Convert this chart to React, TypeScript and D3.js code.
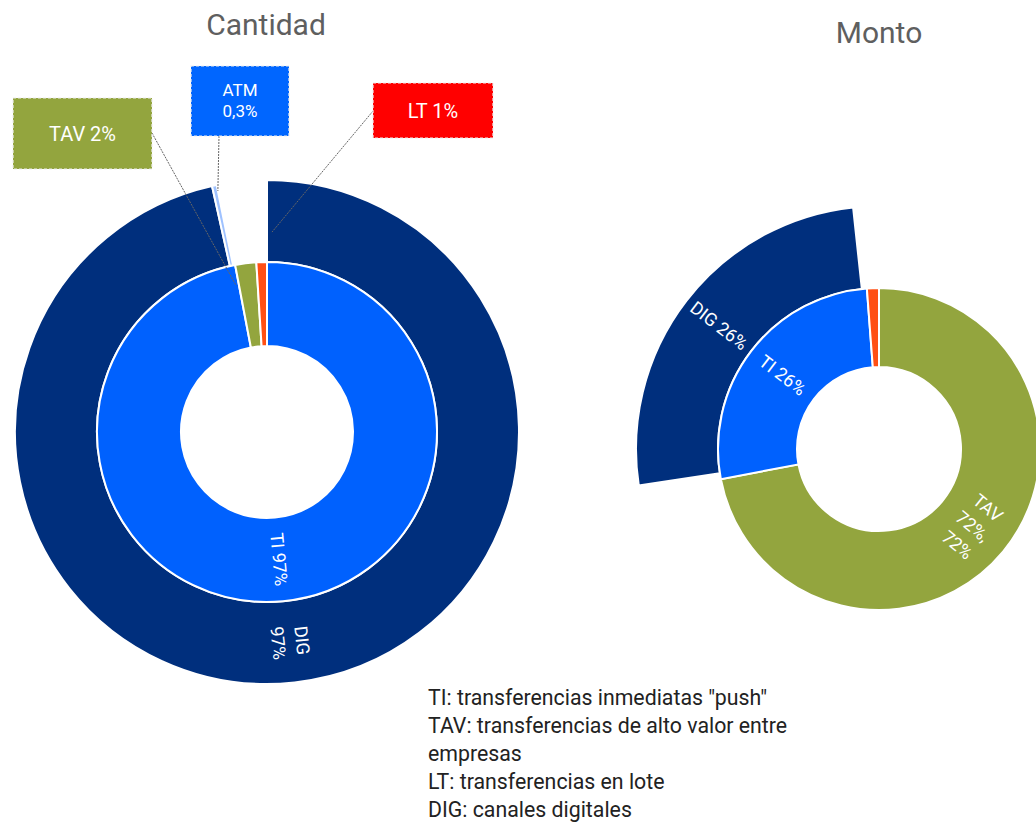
import React from "react";
import * as d3 from "d3";

// ---- data ----
const cantidadInnerCats = ["TI", "TAV", "LT"];
const cantidadInnerValues = [97, 2, 1];
const cantidadOuterCats = ["DIG", "ATM", ""];
const cantidadOuterValues = [96.5, 0.3, 3.2];

const montoInnerCats = ["TAV", "TI", "LT"];
const montoInnerValues = [72, 26.8, 1.2];
const montoOuterCats = ["", "DIG", ""];
const montoOuterValues = [72.6, 25.7, 1.7];

const legendLines = [
  'TI: transferencias inmediatas "push"',
  "TAV: transferencias de alto valor entre",
  "empresas",
  "LT: transferencias en lote",
  "DIG: canales digitales",
];

const colors: Record<string, string> = {
  TI: "#0061fe",
  ATM: "#9fc2ff",
  TAV: "#93a53e",
  LT: "#ff4f14",
  DIG: "#002f7d",
};

type Slice = d3.PieArcDatum<number> & { cat: string };

function slices(cats: string[], values: number[]): Slice[] {
  const pie = d3.pie<number>().sort(null).value((d) => d);
  return pie(values).map((p, i) => ({ ...p, cat: cats[i] }));
}

function polar(cx: number, cy: number, a: number, r: number): [number, number] {
  return [cx + r * Math.sin(a), cy - r * Math.cos(a)];
}

function Ring({ data, r0, r1 }: { data: Slice[]; r0: number; r1: number }) {
  const arc = d3.arc<Slice>().innerRadius(r0).outerRadius(r1);
  return (
    <g>
      {data
        .filter((d) => d.cat !== "")
        .map((d, i) => (
          <path key={i} d={arc(d) || ""} fill={colors[d.cat]} stroke="#fff" strokeWidth={2} />
        ))}
    </g>
  );
}

function RingLabel({ d, r0, r1, lines }: { d: Slice; r0: number; r1: number; lines: string[] }) {
  const arc = d3.arc<Slice>().innerRadius(r0).outerRadius(r1);
  const [x, y] = arc.centroid(d);
  const mid = (((d.startAngle + d.endAngle) / 2) * 180) / Math.PI;
  const rot = mid < 180 ? mid - 90 : mid + 90;
  const lh = 24;
  return (
    <text
      transform={`translate(${x},${y}) rotate(${rot})`}
      textAnchor="middle"
      fill="#fff"
      fontSize={18}
      fontFamily="Roboto, sans-serif"
    >
      {lines.map((l, i) => (
        <tspan key={i} x={0} y={(i - (lines.length - 1) / 2) * lh} dy="0.35em">
          {l}
        </tspan>
      ))}
    </text>
  );
}

function Callout({ x, y, w, h, fill, lines, size }: any) {
  const lh = size + 4;
  return (
    <g>
      <rect x={x} y={y} width={w} height={h} fill={fill} stroke="#eeeeee" strokeWidth={1.2} strokeDasharray="3,2" />
      <text textAnchor="middle" fill="#fff" fontSize={size} fontFamily="Roboto, sans-serif">
        {lines.map((l: string, i: number) => (
          <tspan key={i} x={x + w / 2} y={y + h / 2 + (i - (lines.length - 1) / 2) * lh} dy="0.35em">
            {l}
          </tspan>
        ))}
      </text>
    </g>
  );
}

export default function App() {
  // Cantidad
  const c = { cx: 267, cy: 432, r0: 86, r1: 170, r2: 252 };
  const cIn = slices(cantidadInnerCats, cantidadInnerValues);
  const cOut = slices(cantidadOuterCats, cantidadOuterValues);
  // Monto
  const m = { cx: 879, cy: 449, r0: 82, r1: 161, r2: 243 };
  const mIn = slices(montoInnerCats, montoInnerValues);
  const mOut = slices(montoOuterCats, montoOuterValues);

  const tav = cIn.find((d) => d.cat === "TAV")!;
  const lt = cIn.find((d) => d.cat === "LT")!;
  const atm = cOut.find((d) => d.cat === "ATM")!;
  const tavEnd = polar(c.cx, c.cy, tav.startAngle - 0.02, 150);
  const atmEnd = polar(c.cx, c.cy, atm.endAngle, 246);
  const ltEnd = polar(c.cx, c.cy, lt.endAngle + 0.025, 200);

  const leader = { stroke: "#666", strokeWidth: 1, strokeDasharray: "2,1", fill: "none" };

  return (
    <svg
      width={1036}
      height={823}
      style={{ position: "absolute", left: 0, top: 0, background: "#fff" }}
    >
      <text x={266} y={35} textAnchor="middle" fontSize={30} fill="#5f5f5f" fontFamily="Roboto, sans-serif">
        Cantidad
      </text>
      <text x={879} y={43} textAnchor="middle" fontSize={30} fill="#5f5f5f" fontFamily="Roboto, sans-serif">
        Monto
      </text>

      <g transform={`translate(${c.cx},${c.cy})`}>
        <Ring data={cOut} r0={c.r1} r1={c.r2} />
        <Ring data={cIn} r0={c.r0} r1={c.r1} />
        <RingLabel d={cIn[0]} r0={c.r0} r1={c.r1} lines={["TI 97%"]} />
        <RingLabel d={cOut[0]} r0={c.r1} r1={c.r2} lines={["DIG", "97%"]} />
      </g>

      <g transform={`translate(${m.cx},${m.cy})`}>
        <Ring data={mOut} r0={m.r1} r1={m.r2} />
        <Ring data={mIn} r0={m.r0} r1={m.r1} />
        <RingLabel d={mIn[0]} r0={m.r0} r1={m.r1} lines={["TAV", "72%,", "72%"]} />
        <RingLabel d={mIn[1]} r0={m.r0} r1={m.r1} lines={["TI 26%"]} />
        <RingLabel d={mOut[1]} r0={m.r1} r1={m.r2} lines={["DIG 26%"]} />
      </g>

      <line x1={152} y1={133} x2={tavEnd[0]} y2={tavEnd[1]} {...leader} />
      <line x1={219} y1={136} x2={atmEnd[0]} y2={atmEnd[1]} {...leader} />
      <line x1={373} y1={111} x2={ltEnd[0]} y2={ltEnd[1]} {...leader} />

      <Callout x={13} y={98} w={139} h={71} fill="#93a53e" lines={["TAV 2%"]} size={20} />
      <Callout x={191} y={66} w={98} h={70} fill="#0066ff" lines={["ATM", "0,3%"]} size={17} />
      <Callout x={373} y={83} w={120} h={55} fill="#ff0000" lines={["LT 1%"]} size={20} />

      <text fontSize={21.3} fill="#222" fontFamily="Roboto, sans-serif">
        {legendLines.map((l, i) => (
          <tspan key={i} x={428} y={705 + i * 28}>
            {l}
          </tspan>
        ))}
      </text>
    </svg>
  );
}
